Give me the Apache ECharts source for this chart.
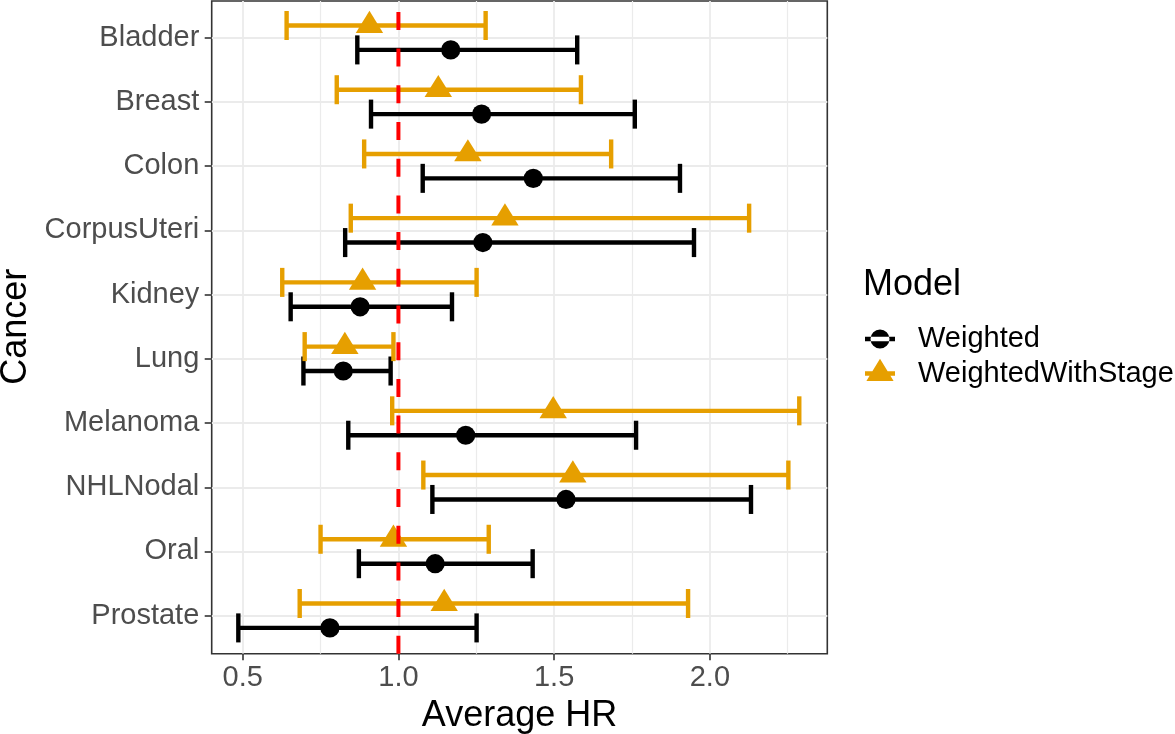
<!DOCTYPE html>
<html>
<head>
<meta charset="utf-8">
<script src="https://cdn.jsdelivr.net/npm/echarts@6/dist/echarts.min.js"></script>
<style>
html,body{margin:0;padding:0;background:#ffffff;}
#chart{width:1175px;height:734px;}
</style>
</head>
<body>
<div id="chart"></div>
<script>
// ---------------- data ----------------
const categories = ['Bladder','Breast','Colon','CorpusUteri','Kidney','Lung','Melanoma','NHLNodal','Oral','Prostate'];
const modelNames = ['Weighted','WeightedWithStage'];

const weightedHR   = [1.168, 1.267, 1.433, 1.271, 0.877, 0.823, 1.216, 1.538, 1.118, 0.780];
const weightedLow  = [0.868, 0.912, 1.078, 0.829, 0.654, 0.695, 0.839, 1.109, 0.873, 0.486];
const weightedHigh = [1.574, 1.759, 1.904, 1.949, 1.172, 0.975, 1.763, 2.132, 1.431, 1.251];

const stageHR   = [0.907, 1.128, 1.223, 1.342, 0.885, 0.828, 1.497, 1.560, 0.984, 1.147];
const stageLow  = [0.641, 0.802, 0.890, 0.847, 0.627, 0.699, 0.980, 1.080, 0.750, 0.683];
const stageHigh = [1.280, 1.586, 1.683, 2.126, 1.251, 0.984, 2.287, 2.252, 1.290, 1.930];

const xTicks = [0.5, 1.0, 1.5, 2.0];
const xMinorTicks = [0.75, 1.25, 1.75, 2.25];
const referenceHR = 1.0;

// ---------------- layout / style ----------------
const FONT = '"Liberation Sans", Arial, Helvetica, sans-serif';
const X_MIN = 0.4005, X_MAX = 2.377;
const PANEL = {left: 211.7, top: 1, width: 615.6, height: 652.8};
const CATGRID = {left: 211.7, top: 37.7, width: 615.6, height: 578};
const GRID_COLOR = '#EBEBEB';
const DODGE = 0.19;     // fraction of category spacing
const CAP = 0.226;      // half cap height, fraction of category spacing
const LW = 4.4;

function buildData(low, high, hr) {
  return categories.map((c, i) => [low[i], high[i], hr[i], i]);
}

function makeRender(offsetFrac, shape) {
  return function (params, api) {
    const cat = api.value(3);
    const band = api.size([0, 1])[1];
    const dy = offsetFrac * band;
    const capH = CAP * band;
    const pLow = api.coord([api.value(0), cat]);
    const pHigh = api.coord([api.value(1), cat]);
    const pMid = api.coord([api.value(2), cat]);
    const y = pLow[1] + dy;
    const color = api.visual('color');
    const ls = {stroke: color, lineWidth: LW, lineCap: 'butt'};
    const children = [
      {type: 'line', shape: {x1: pLow[0], y1: y, x2: pHigh[0], y2: y}, style: ls},
      {type: 'line', shape: {x1: pLow[0], y1: y - capH, x2: pLow[0], y2: y + capH}, style: ls},
      {type: 'line', shape: {x1: pHigh[0], y1: y - capH, x2: pHigh[0], y2: y + capH}, style: ls}
    ];
    if (shape === 'circle') {
      children.push({type: 'circle', shape: {cx: pMid[0], cy: y, r: 9.6}, style: {fill: color}});
    } else {
      children.push({type: 'polygon', shape: {points: [[pMid[0], y - 14.8], [pMid[0] - 13.7, y + 7.4], [pMid[0] + 13.7, y + 7.4]]}, style: {fill: color}});
    }
    return {type: 'group', children: children};
  };
}

// legend icons (48x30 box; glyph in the left 30px, degenerate points pad the box)
const iconCircle = 'path://M0 0 L0 0 M48 30 L48 30 M0 12.85 L30 12.85 L30 17.15 L0 17.15 Z M5.5 15 A9.5 9.5 0 1 0 24.5 15 A9.5 9.5 0 1 0 5.5 15 Z';
const iconTriangle = 'path://M0 0 L0 0 M48 30 L48 30 M0 12.85 L30 12.85 L30 17.15 L0 17.15 Z M15 0.3 L28.6 22.4 L1.4 22.4 Z';

const chart = echarts.init(document.getElementById('chart'), null, {renderer: 'canvas'});

const option = {
  animation: false,
  backgroundColor: '#ffffff',
  textStyle: {fontFamily: FONT},
  title: {
    text: 'Model', left: 863, top: 267, padding: 0,
    textStyle: {fontFamily: FONT, fontSize: 36, fontWeight: 'normal', color: '#000000'}
  },
  legend: {
    orient: 'vertical', left: 865, top: 324, padding: 0,
    itemWidth: 48, itemHeight: 30, itemGap: 4.5,
    selectedMode: false,
    data: [
      {name: modelNames[0], icon: iconCircle},
      {name: modelNames[1], icon: iconTriangle}
    ],
    textStyle: {fontFamily: FONT, fontSize: 29, color: '#000000', padding: 0}
  },
  grid: [
    Object.assign({show: true, borderColor: '#333333', borderWidth: 1.6, backgroundColor: '#ffffff',
                   containLabel: false, outerBoundsMode: 'none'}, PANEL),
    Object.assign({show: false, containLabel: false, outerBoundsMode: 'none'}, CATGRID)
  ],
  xAxis: [
    {
      type: 'value', gridIndex: 0, min: X_MIN, max: X_MAX,
      axisLine: {show: false},
      axisTick: {show: true, customValues: xTicks, length: 6.5, lineStyle: {color: '#333333', width: 1.6}},
      axisLabel: {show: true, customValues: xTicks, margin: 10, fontSize: 29, color: '#4D4D4D', fontFamily: FONT,
                  formatter: v => Number(v).toFixed(1)},
      splitLine: {show: true, lineStyle: {color: GRID_COLOR, width: 1.8}},
      name: 'Average HR', nameLocation: 'middle', nameGap: 43,
      nameTextStyle: {fontSize: 36, color: '#000000', fontFamily: FONT}
    },
    {
      type: 'value', gridIndex: 0, min: X_MIN, max: X_MAX,
      axisLine: {show: false},
      axisTick: {show: false, customValues: xMinorTicks},
      axisLabel: {show: false, customValues: xMinorTicks},
      splitLine: {show: true, lineStyle: {color: GRID_COLOR, width: 1.2}}
    },
    {
      type: 'value', gridIndex: 1, min: X_MIN, max: X_MAX, show: false
    }
  ],
  yAxis: [
    {type: 'value', gridIndex: 0, min: 0, max: 1, show: false},
    {
      type: 'category', gridIndex: 1, data: categories, inverse: true, boundaryGap: false,
      axisLine: {show: false},
      axisTick: {show: true, interval: 0, length: 7, lineStyle: {color: '#333333', width: 1.6}},
      axisLabel: {show: true, interval: 0, margin: 12.4, fontSize: 29, color: '#4D4D4D', fontFamily: FONT,
                  padding: [4, 0, 0, 0]},
      splitLine: {show: true, interval: 0, lineStyle: {color: GRID_COLOR, width: 1.8}},
      name: 'Cancer', nameLocation: 'middle', nameRotate: 90, nameGap: 174,
      nameTextStyle: {fontSize: 36, color: '#000000', fontFamily: FONT}
    }
  ],
  series: [
    {
      name: modelNames[0], type: 'custom', xAxisIndex: 2, yAxisIndex: 1,
      itemStyle: {color: '#000000'},
      encode: {x: [0, 1, 2], y: 3},
      renderItem: makeRender(DODGE, 'circle'),
      data: buildData(weightedLow, weightedHigh, weightedHR),
      z: 3, clip: false
    },
    {
      name: modelNames[1], type: 'custom', xAxisIndex: 2, yAxisIndex: 1,
      itemStyle: {color: '#E69F00'},
      encode: {x: [0, 1, 2], y: 3},
      renderItem: makeRender(-DODGE, 'triangle'),
      data: buildData(stageLow, stageHigh, stageHR),
      z: 3, clip: false
    },
    {
      name: 'reference', type: 'line', xAxisIndex: 0, yAxisIndex: 0,
      data: [[referenceHR, 0], [referenceHR, 1]],
      symbol: 'none', silent: true, z: 5,
      lineStyle: {color: '#FF0000', width: 4, type: [18, 18.7], cap: 'butt'}
    }
  ]
};
chart.setOption(option);
</script>
</body>
</html>
